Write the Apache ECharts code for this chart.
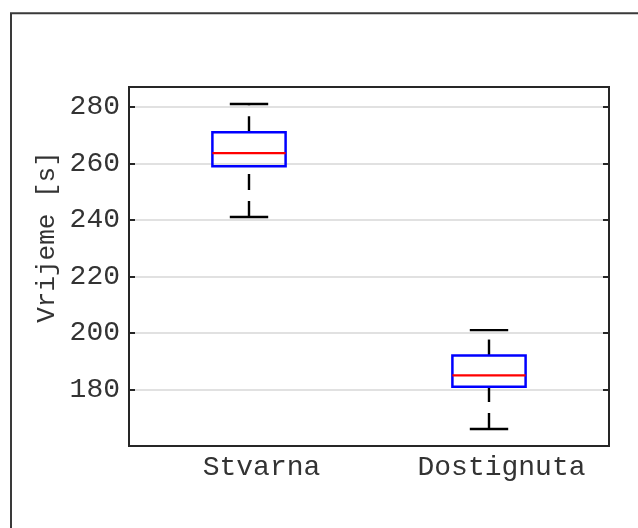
<!DOCTYPE html>
<html>
<head>
<meta charset="utf-8">
<script src="https://cdn.jsdelivr.net/npm/echarts@6/dist/echarts.min.js"></script>
<style>
html,body{margin:0;padding:0;background:#fff;}
#chart{width:638px;height:528px;}
</style>
</head>
<body>
<div id="chart"></div>
<script>
var categories = ['Stvarna', 'Dostignuta'];
var lowerWhisker = [241, 166];
var q1 = [259, 181];
var median = [263.6, 185];
var q3 = [271, 192];
var upperWhisker = [281, 201];
var yTicks = [180, 200, 220, 240, 260, 280];
var yName = 'Vrijeme [s]';

var FONT = '"Liberation Mono", "Courier New", monospace';
var AX = '#262626';
var TXT = '#333333';

var data = categories.map(function (c, i) {
  return [i, lowerWhisker[i], q1[i], median[i], q3[i], upperWhisker[i]];
});

function renderItem(params, api) {
  var idx = api.value(0);
  var band = api.size([1, 0])[0];
  var boxW = band * 0.305;
  var capW = band * 0.16;
  var pLo = api.coord([idx, api.value(1)]);
  var pQ1 = api.coord([idx, api.value(2)]);
  var pMed = api.coord([idx, api.value(3)]);
  var pQ3 = api.coord([idx, api.value(4)]);
  var pHi = api.coord([idx, api.value(5)]);
  var x = pMed[0];
  var dash = { stroke: '#000', lineWidth: 2.4, lineDash: [16, 11], fill: null };
  var solid = { stroke: '#000', lineWidth: 2.4, fill: null };
  return {
    type: 'group',
    children: [
      { type: 'line', shape: { x1: x, y1: pLo[1], x2: x, y2: pQ1[1] }, style: dash },
      { type: 'line', shape: { x1: x, y1: pQ3[1], x2: x, y2: pHi[1] }, style: dash },
      { type: 'line', shape: { x1: x - capW / 2, y1: pLo[1], x2: x + capW / 2, y2: pLo[1] }, style: solid },
      { type: 'line', shape: { x1: x - capW / 2, y1: pHi[1], x2: x + capW / 2, y2: pHi[1] }, style: solid },
      { type: 'rect', shape: { x: x - boxW / 2, y: pQ3[1], width: boxW, height: pQ1[1] - pQ3[1] },
        style: { stroke: '#0000ff', lineWidth: 2.5, fill: null } },
      { type: 'line', shape: { x1: x - boxW / 2, y1: pMed[1], x2: x + boxW / 2, y2: pMed[1] },
        style: { stroke: '#ff0000', lineWidth: 2.4, fill: null } }
    ]
  };
}

var yAxisBase = {
  type: 'value',
  min: 160,
  max: 287,
  interval: 20,
  axisLine: { show: false },
  axisTick: { show: true, inside: true, length: 6, lineStyle: { color: AX, width: 2 } },
  splitLine: { show: false }
};

var chart = echarts.init(document.getElementById('chart'), null, { renderer: 'canvas' });
chart.setOption({
  backgroundColor: '#fff',
  animation: false,
  graphic: [
    { type: 'rect', shape: { x: 11, y: 13.3, width: 1000, height: 1000 },
      style: { stroke: '#3a3a3a', lineWidth: 2, fill: null }, z: 100 },
    { type: 'text', x: 47, y: 237, rotation: Math.PI / 2,
      style: { text: yName, font: '26px ' + FONT, fill: TXT, align: 'center', verticalAlign: 'middle' } }
  ],
  grid: {
    left: 129, top: 87, right: 29, bottom: 82,
    show: true, borderColor: AX, borderWidth: 2, backgroundColor: 'transparent', z: 3
  },
  xAxis: {
    type: 'category',
    data: categories,
    boundaryGap: true,
    axisLine: { show: false },
    axisTick: { show: false },
    splitLine: { show: false },
    axisLabel: { margin: 8, color: TXT, fontFamily: FONT, fontSize: 28, padding: [0, 0, 0, 25] }
  },
  yAxis: [
    Object.assign({}, yAxisBase, {
      position: 'left',
      splitLine: { show: true, lineStyle: { color: '#e1e1e1', width: 2 } },
      axisLabel: {
        margin: 9, color: TXT, fontFamily: FONT, fontSize: 28,
        padding: [5, 0, 0, 0],
        showMinLabel: false, showMaxLabel: false,
        formatter: function (v) { return yTicks.indexOf(v) >= 0 ? String(v) : ''; }
      }
    }),
    Object.assign({}, yAxisBase, {
      position: 'right',
      axisLabel: { show: false }
    })
  ],
  series: [{
    type: 'custom',
    renderItem: renderItem,
    encode: { x: 0, y: [1, 2, 3, 4, 5] },
    data: data,
    z: 5
  }]
});
</script>
</body>
</html>
